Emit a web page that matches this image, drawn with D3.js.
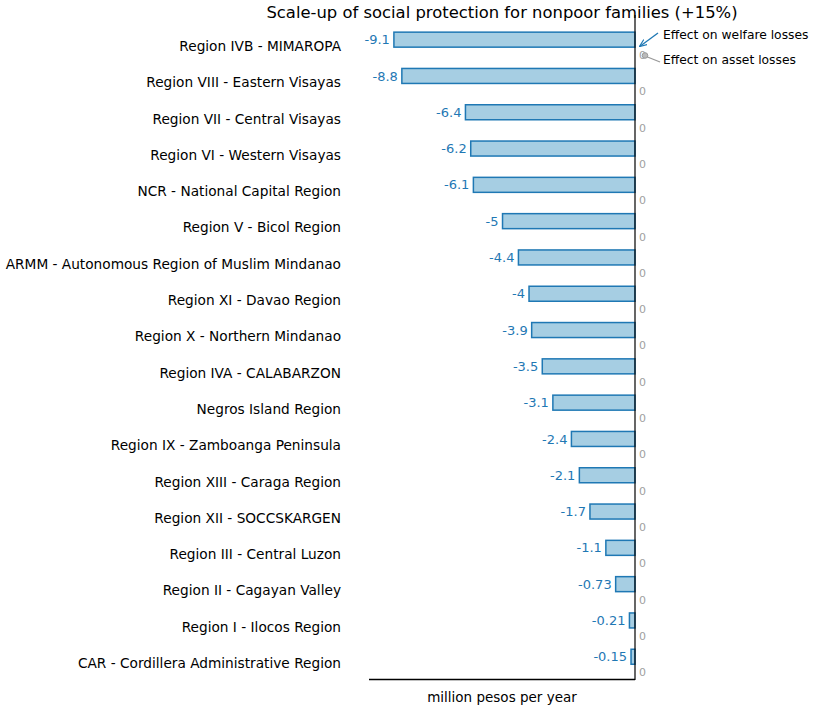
<!DOCTYPE html>
<html><head><meta charset="utf-8">
<script src="https://cdn.jsdelivr.net/npm/d3@7"></script>
<style>body{margin:0;background:#fff}svg{font-family:"DejaVu Sans",sans-serif}</style>
</head><body>
<svg id="c" width="823" height="705"></svg>
<script>
const regions = ["Region IVB - MIMAROPA","Region VIII - Eastern Visayas","Region VII - Central Visayas","Region VI - Western Visayas","NCR - National Capital Region","Region V - Bicol Region","ARMM - Autonomous Region of Muslim Mindanao","Region XI - Davao Region","Region X - Northern Mindanao","Region IVA - CALABARZON","Negros Island Region","Region IX - Zamboanga Peninsula","Region XIII - Caraga Region","Region XII - SOCCSKARGEN","Region III - Central Luzon","Region II - Cagayan Valley","Region I - Ilocos Region ","CAR - Cordillera Administrative Region"];
const welfare = [-9.1,-8.8,-6.4,-6.2,-6.1,-5,-4.4,-4,-3.9,-3.5,-3.1,-2.4,-2.1,-1.7,-1.1,-0.73,-0.21,-0.15];
const asset = [0,0,0,0,0,0,0,0,0,0,0,0,0,0,0,0,0,0];
const title = "Scale-up of social protection for nonpoor families (+15%)";
const xLabel = "million pesos per year";
const legendLabels = ["Effect on welfare losses","Effect on asset losses"];

const svg = d3.select("#c");
const x = d3.scaleLinear().domain([-10.04,0]).range([369,635]);
const y = d3.scaleBand().domain(regions).range([28,681.4]);
const blue = "#1f78b4", fill = "#a6cee3", grey = "#999";

svg.append("text").attr("x",502).attr("y",18).attr("text-anchor","middle")
  .attr("font-size",16.4).attr("fill","#000").text(title);

// bars
const g = svg.append("g");
regions.forEach((r,i)=>{
  const c = y(r) + y.bandwidth()/2;
  const v = welfare[i];
  g.append("rect").attr("x",x(v)).attr("y",c-14).attr("width",x(0)-x(v)).attr("height",15)
    .attr("fill",fill).attr("stroke",blue).attr("stroke-width",1.5);
  g.append("text").attr("x",x(v)-4).attr("y",c-6.5).attr("dy","0.35em").attr("text-anchor","end")
    .attr("font-size",13).attr("fill",blue).text(v);
  g.append("text").attr("x",x(asset[i])+4).attr("y",c+9).attr("dy","0.35em")
    .attr("font-size",11).attr("fill","#a0a0a0").text(asset[i]);
  g.append("text").attr("x",341).attr("y",c).attr("dy","0.35em").attr("text-anchor","end")
    .attr("font-size",13.7).attr("fill","#000").text(r);
});

// axes
svg.append("line").attr("x1",x(0)).attr("x2",x(0)).attr("y1",15).attr("y2",680).attr("stroke","#000").attr("stroke-width",1.2);
svg.append("line").attr("x1",369).attr("x2",x(0)).attr("y1",679.5).attr("y2",679.5).attr("stroke","#000").attr("stroke-width",1.5);
svg.append("text").attr("x",502).attr("y",697).attr("dy","0.35em").attr("text-anchor","middle")
  .attr("font-size",13.5).attr("fill","#000").text(xLabel);

// legend annotations
const c0 = y(regions[0]) + y.bandwidth()/2;
svg.append("defs").append("marker").attr("id","ah").attr("viewBox","0 0 10 10").attr("refX",9).attr("refY",5)
  .attr("markerWidth",6).attr("markerHeight",6).attr("orient","auto")
  .append("path").attr("d","M0,1 L10,5 L0,9").attr("fill","none").attr("stroke",blue).attr("stroke-width",1.5);
svg.append("line").attr("x1",658).attr("y1",33).attr("x2",x(0)+5).attr("y2",c0).attr("stroke",blue).attr("stroke-width",1.3).attr("marker-end","url(#ah)");
svg.append("text").attr("x",663).attr("y",35).attr("dy","0.35em").attr("font-size",12.3).attr("fill","#000").text(legendLabels[0]);
svg.append("line").attr("x1",660).attr("y1",62).attr("x2",645).attr("y2",56).attr("stroke",grey).attr("stroke-width",1.3);
svg.append("circle").attr("cx",645).attr("cy",55.5).attr("r",2.8).attr("fill","#bbb").attr("stroke",grey);
svg.append("text").attr("x",663).attr("y",60).attr("dy","0.35em").attr("font-size",12.3).attr("fill","#000").text(legendLabels[1]);
</script>
</body></html>
